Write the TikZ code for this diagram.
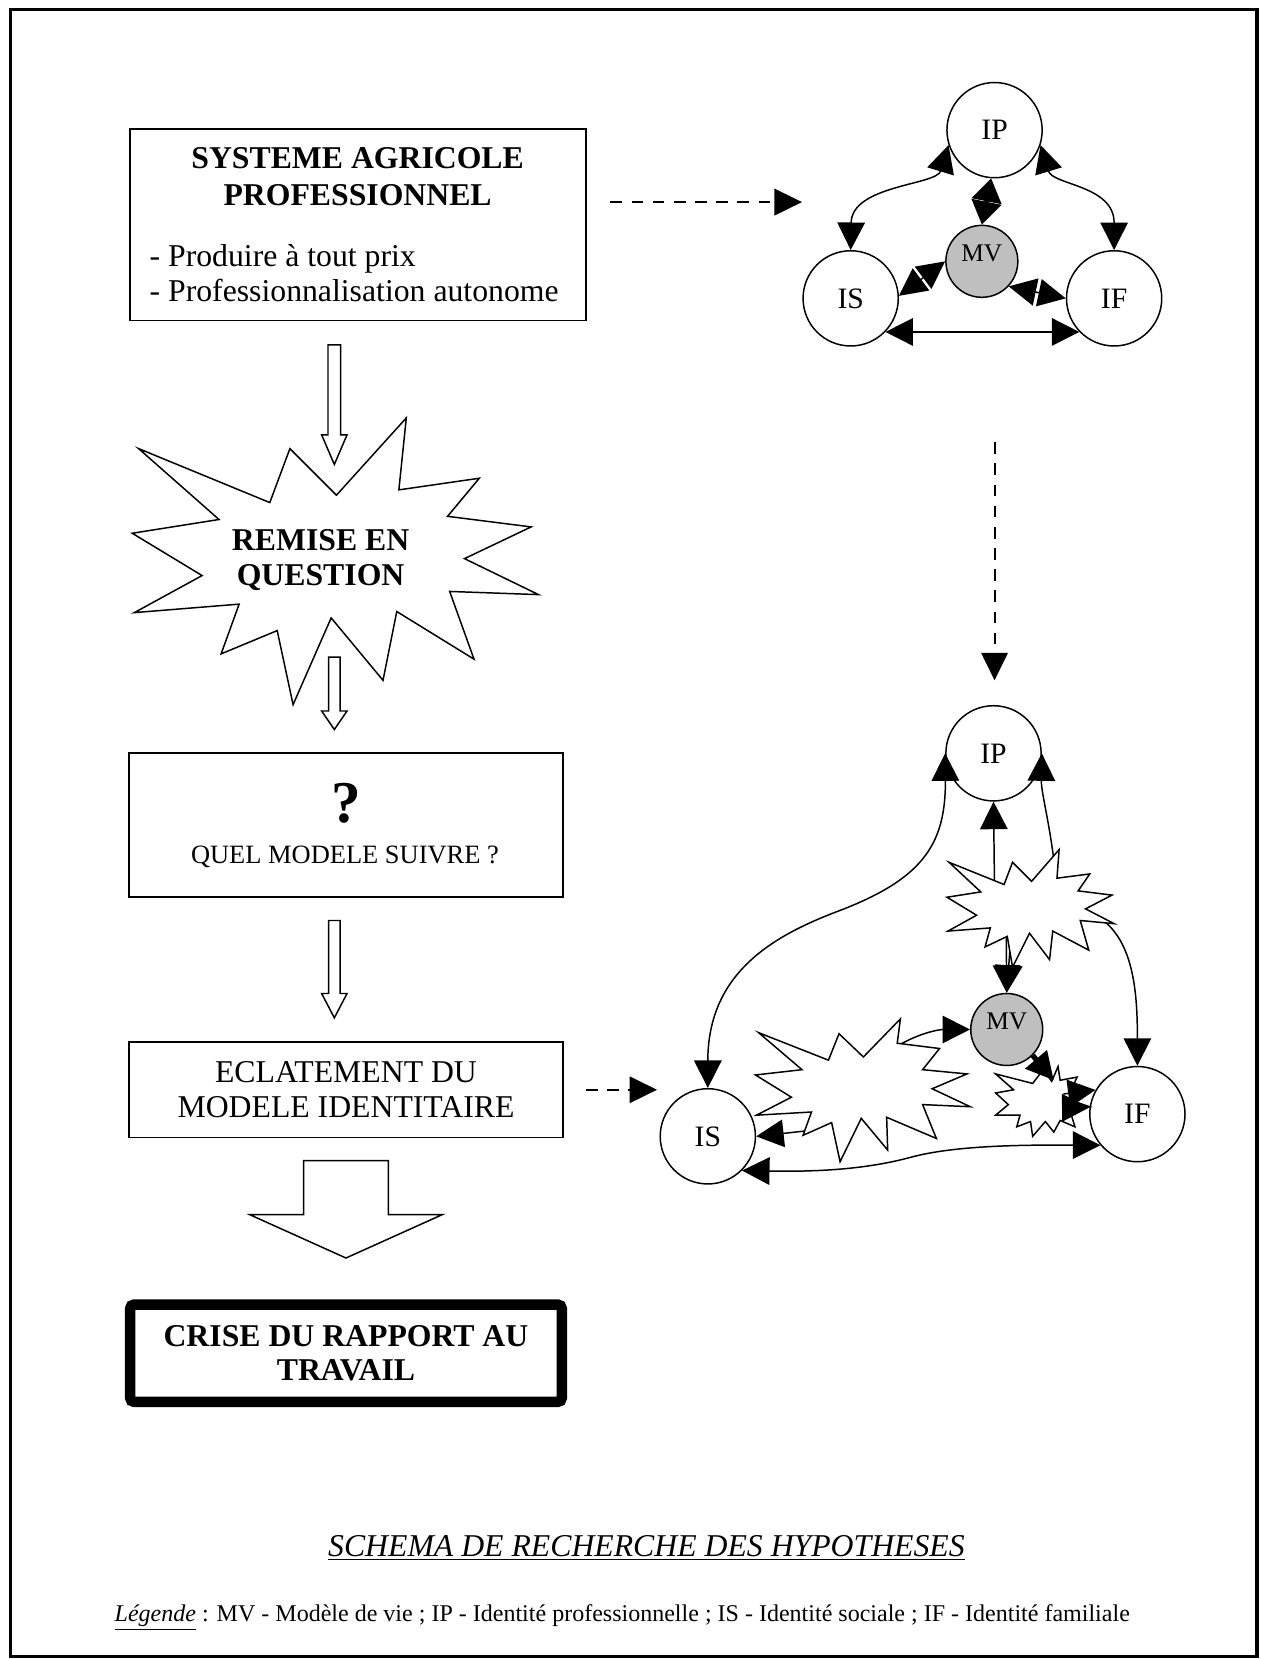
\documentclass[tikz,border=0pt]{standalone}
\usepackage{fontspec}
\setmainfont{Liberation Serif}
\usetikzlibrary{arrows.meta,positioning}

\begin{document}
\begin{tikzpicture}[x=0.5pt,y=-0.5pt,
  box/.style={draw,line width=0.8pt,inner sep=0pt,align=center},
  ident/.style={circle,draw,fill=white,line width=0.7pt,minimum size=45pt,inner sep=0pt,font=\fontsize{14}{16}\selectfont},
  mv/.style={ident,fill=gray!50,minimum size=34pt,font=\fontsize{12}{14}\selectfont,text height=8pt,text depth=8pt},
  link/.style={{Triangle[length=13pt,width=13pt]}-{Triangle[length=13pt,width=13pt]},line width=0.7pt},
  boldlink/.style={{Triangle[length=11pt,width=14pt]}-{Triangle[length=11pt,width=14pt]},line width=2pt},
  oneway/.style={-{Triangle[length=13pt,width=13pt]},line width=0.7pt},
  dasharrow/.style={-{Triangle[length=13pt,width=12.5pt]},line width=1pt,dash pattern=on 5.5pt off 4.5pt},
  burst/.style={draw,fill=white,line width=0.7pt},
  hollow/.style={draw,fill=white,line width=0.7pt},
  boldtext/.style={inner sep=0pt,align=center,font=\fontsize{15}{17.3}\selectfont\bfseries},
  plaintext/.style={inner sep=0pt,align=center,font=\fontsize{15}{16.5}\selectfont}
]
  \useasboundingbox (0,0) rectangle (1191,1568);
  \draw[line width=1.5pt] (10,9) rectangle (1188,1566);

  % Left column
  \node[box,minimum width=215.5pt,minimum height=90.5pt] (systeme) at (338.5,212.5) {};
  \node[boldtext] (systemetitle) at (338,167) {SYSTEME AGRICOLE\\PROFESSIONNEL};
  \node[plaintext,align=left,anchor=west] (systemelist) at (141,258) {- Produire à tout prix\\- Professionnalisation autonome};

  % hollow arrow into the burst
  \draw[hollow] (310,326) -- (322,326) -- (322,411) -- (328,411) -- (316,439) -- (304,411) -- (310,411) -- cycle;

  \draw[burst] (131,424) -- (255,475) -- (274,424) -- (318,468) -- (384,395) -- (377,463) -- (453,452) -- (423,488)
    -- (502,498) -- (439,528) -- (509,562) -- (425,559) -- (448,623) -- (375,578) -- (362,643) -- (313,584)
    -- (277,666) -- (262,596) -- (209,618) -- (226,571) -- (127,579) -- (191,544) -- (125,504) -- (207,491) -- cycle;
  \node[boldtext,font=\fontsize{15}{16.5}\selectfont\bfseries] (remise) at (303,529) {REMISE EN\\QUESTION};

  \draw[hollow] (310.5,621) -- (321.5,621) -- (321.5,672) -- (328,672) -- (316,689.5) -- (304,672) -- (310.5,672) -- cycle;

  \node[box,minimum width=205pt,minimum height=68pt] (quel) at (327,780) {};
  \node[inner sep=0pt,font=\fontsize{28}{30}\selectfont\bfseries] (qmark) at (327,759) {?};
  \node[inner sep=0pt,font=\fontsize{12.5}{14}\selectfont] (quellabel) at (326,810) {QUEL MODELE SUIVRE ?};

  \draw[hollow] (310.5,870) -- (321.5,870) -- (321.5,939) -- (328,939) -- (316,962) -- (304,939) -- (310.5,939) -- cycle;

  \node[box,plaintext,draw,line width=0.8pt,minimum width=205pt,minimum height=45pt] (eclat) at (327,1030) {ECLATEMENT DU\\MODELE IDENTITAIRE};

  \draw[hollow] (287,1097) -- (367,1097) -- (367,1148) -- (418,1148) -- (327,1189) -- (236,1148) -- (287,1148) -- cycle;

  \node[draw,line width=5pt,rounded corners=2pt,minimum width=204pt,minimum height=46pt,inner sep=0pt,align=center,
        font=\fontsize{15}{15.75}\selectfont\bfseries] (crise) at (327,1279) {CRISE DU RAPPORT AU\\TRAVAIL};

  % Top model
  \node[ident] (ip1) at (940,123) {IP};
  \node[ident] (is1) at (804,282) {IS};
  \node[ident] (if1) at (1053,282) {IF};
  \node[mv]    (mv1) at (928,247) {MV};

  \draw[link] (is1.north) .. controls (805,175) and (885,175) .. (ip1.198);
  \draw[link] (ip1.342) .. controls (995,175) and (1053,175) .. (if1.north);
  \draw[boldlink] (ip1.266) -- (mv1.north);
  \draw[link] (mv1.west) -- (is1.3);
  \draw[link] (mv1.-43) -- (if1.west);
  \draw[link] (is1.-44) -- (if1.-136);

  % Dashed links
  \coordinate (d1a) at (577,191);
  \coordinate (d1b) at (758,191);
  \coordinate (d2a) at (940,418);
  \coordinate (d2b) at (940,643);
  \coordinate (d3a) at (554,1030);
  \coordinate (d3b) at (621,1030);
  \draw[dasharrow] (d1a) -- (d1b);
  \draw[dasharrow] (d2a) -- (d2b);
  \draw[dasharrow] (d3a) -- (d3b);

  % Broken model
  \node[ident] (ip2) at (939,712) {IP};
  \node[ident] (is2) at (669,1074) {IS};
  \node[ident] (if2) at (1075,1053) {IF};
  \node[mv]    (mv2) at (951.5,973) {MV};

  \coordinate (sa-ip)  at (940,842);
  \coordinate (sa-ipe) at (998,830);
  \coordinate (sa-mv1) at (951,876);
  \coordinate (sa-mv2) at (956,878);
  \coordinate (sa-if)  at (1040,868);
  \coordinate (sb-mv)  at (846,990);
  \coordinate (sb-is)  at (770,1068);
  \coordinate (sc-mv)  at (996,1021);
  \coordinate (sc-if1) at (1005,1034);
  \coordinate (sc-if2) at (1005,1047);

  \draw[link] (is2.north) .. controls (669,920) and (730,885) .. (790,862)
    .. controls (870,832) and (894,800) .. (ip2.west);
  \draw[link] (is2.-45) .. controls (790,1108) and (830,1102) .. (860,1094)
    .. controls (900,1083) and (960,1082) .. (if2.-140);
  \draw[oneway] (sa-ip) -- (ip2.south);
  \draw[oneway] (sa-ipe) .. controls (993,780) and (984,750) .. (ip2.east);
  \draw[oneway] (sa-mv1) -- (mv2.north);
  \draw[oneway] (sa-mv2) -- (mv2.north);
  \draw[oneway] (sa-if) .. controls (1072,890) and (1075,940) .. (if2.north);
  \draw[oneway] (sb-mv) .. controls (870,975) and (890,973) .. (mv2.west);
  \draw[oneway] (sb-is) -- (is2.east);

  \draw[burst] (897,815) -- (949,836) -- (957,815) -- (975,833) -- (1001,803) -- (999,830) -- (1030,826) -- (1019,842)
    -- (1051,846) -- (1026,859) -- (1053,873) -- (1021,870) -- (1029,898) -- (995,880) -- (992,907) -- (973,882)
    -- (957,914) -- (952,885) -- (931,895) -- (936,877) -- (896,880) -- (923,865) -- (895,848) -- (927,843) -- cycle;
  \draw[burst] (717,976) -- (783,1002) -- (793,977) -- (816,999) -- (851,963) -- (848,986) -- (888,991) -- (872,1011)
    -- (914,1015) -- (881,1029) -- (917,1046) -- (872,1044) -- (885,1076) -- (838,1056) -- (839,1087) -- (814,1057)
    -- (794,1098) -- (786,1061) -- (759,1073) -- (767,1051) -- (715,1054) -- (748,1037) -- (714,1016) -- (758,1011) -- cycle;
  \draw[burst] (941,1015) -- (976,1024) -- (986,1011) -- (994,1022) -- (1000,1008) -- (1002,1021) -- (1018,1018) -- (1013,1029)
    -- (1029,1033) -- (1015,1041) -- (1030,1046) -- (1011,1049) -- (1016,1065) -- (1002,1059) -- (996,1070) -- (988,1060)
    -- (976,1074) -- (974,1060) -- (961,1065) -- (964,1054) -- (941,1054) -- (953,1044) -- (941,1033) -- (958,1030) -- cycle;

  \draw[oneway,line width=2.5pt] (mv2.-45) -- (sc-mv);
  \draw[oneway] (sc-if1) -- (if2.150);
  \draw[oneway] (sc-if2) -- (if2.172);

  % Caption
  \node[inner sep=0pt,font=\fontsize{15}{17}\selectfont\itshape] (title) at (611,1463) {\underline{SCHEMA DE RECHERCHE DES HYPOTHESES}};
  \node[inner sep=0pt,anchor=west,font=\fontsize{11.35}{13}\selectfont] (legend) at (108,1529)
    {\underline{\textit{Légende}} : MV - Modèle de vie ; IP - Identité professionnelle ; IS - Identité sociale ; IF - Identité familiale};
\end{tikzpicture}
\end{document}
